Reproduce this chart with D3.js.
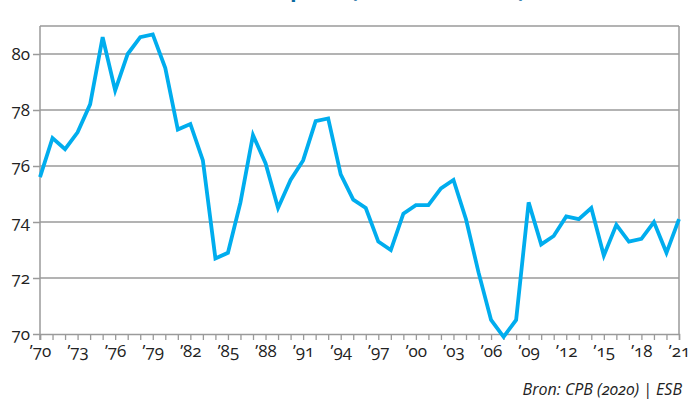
<!DOCTYPE html>
<html>
<head>
<meta charset="utf-8">
<script src="https://cdn.jsdelivr.net/npm/d3@7"></script>
<style>
  body { margin: 0; background: #fff; }
  svg text { font-family: "Open Sans", "Lato", sans-serif; font-feature-settings: "onum" 1; }
</style>
</head>
<body>
<script>
// jaren en waarden
var years = d3.range(1970, 2022);
var values = [75.6, 77.0, 76.6, 77.2, 78.2, 80.6, 78.7, 80.0, 80.6, 80.7,
              79.5, 77.3, 77.5, 76.2, 72.7, 72.9, 74.7, 77.1, 76.1, 74.5,
              75.5, 76.2, 77.6, 77.7, 75.7, 74.8, 74.5, 73.3, 73.0, 74.3,
              74.6, 74.6, 75.2, 75.5, 74.1, 72.2, 70.5, 69.9, 70.5, 74.7,
              73.2, 73.5, 74.2, 74.1, 74.5, 72.8, 73.9, 73.3, 73.4, 74.0,
              72.9, 74.1];
var yTicks = [70, 72, 74, 76, 78, 80];
var xLabelYears = d3.range(1970, 2022, 3);

var W = 689, H = 411;
var m = {left: 40, right: 10, top: 26, bottom: 77};

var svg = d3.select("body").append("svg")
    .attr("width", W).attr("height", H);

// titel valt grotendeels buiten beeld, zoals in het origineel
svg.append("text")
    .attr("x", 100).attr("y", -3)
    .attr("fill", "#0b6a9f")
    .style("font-size", "21px").style("font-weight", "bold")
    .text("Arbeidsinkomensquote (marktsector, %)");

var x = d3.scaleLinear().domain([1970, 2021]).range([m.left, W - m.right]);
var y = d3.scaleLinear().domain([70, 81]).range([H - m.bottom, m.top]);

// gridlijnen
svg.append("g").selectAll("line")
    .data(yTicks.filter(function(d){ return d > 70; }))
    .enter().append("line")
    .attr("x1", m.left).attr("x2", W - m.right)
    .attr("y1", function(d){ return y(d); })
    .attr("y2", function(d){ return y(d); })
    .attr("stroke", "#9a9a9a").attr("stroke-width", 1.5);

// kader boven en rechts
svg.append("line")
    .attr("x1", m.left).attr("x2", W - m.right)
    .attr("y1", m.top).attr("y2", m.top)
    .attr("stroke", "#9a9a9a").attr("stroke-width", 1.5);
svg.append("line")
    .attr("x1", W - m.right).attr("x2", W - m.right)
    .attr("y1", m.top).attr("y2", y(70))
    .attr("stroke", "#9a9a9a").attr("stroke-width", 1.5);

// y-as
var yAxis = svg.append("g")
    .attr("transform", "translate(" + m.left + ",0)")
    .call(d3.axisLeft(y).tickValues(yTicks).tickSize(7).tickPadding(3));
yAxis.select(".domain").remove();
yAxis.append("line")
    .attr("x1", 0).attr("x2", 0)
    .attr("y1", m.top).attr("y2", y(70) + 6)
    .attr("stroke", "#9a9a9a").attr("stroke-width", 1.5);
yAxis.selectAll(".tick line").attr("stroke", "#9a9a9a").attr("stroke-width", 1.5);
yAxis.selectAll(".tick text")
    .attr("fill", "#222").style("font-size", "17px");

// x-as
var xAxis = svg.append("g")
    .attr("transform", "translate(0," + y(70) + ")")
    .call(d3.axisBottom(x).tickValues(years).tickSize(6)
        .tickFormat(function(d){ return xLabelYears.indexOf(d) >= 0 ? "\u2019" + String(d).slice(2) : ""; })
        .tickPadding(5));
xAxis.select(".domain")
    .attr("stroke", "#9a9a9a").attr("stroke-width", 1.5);
xAxis.selectAll(".tick line").attr("stroke", "#9a9a9a").attr("stroke-width", 1.3);
xAxis.selectAll(".tick text")
    .attr("fill", "#222").style("font-size", "17px");

// lijn
var line = d3.line()
    .x(function(d, i){ return x(years[i]); })
    .y(function(d){ return y(d); });

svg.append("path")
    .datum(values)
    .attr("d", line)
    .attr("fill", "none")
    .attr("stroke", "#00adee")
    .attr("stroke-width", 3.8)
    .attr("stroke-linejoin", "miter");

// bron
svg.append("text")
    .attr("x", 682).attr("y", 395)
    .attr("text-anchor", "end")
    .attr("fill", "#222")
    .style("font-size", "16px").style("font-style", "italic")
    .text("Bron: CPB (2020) | ESB");
</script>
</body>
</html>
